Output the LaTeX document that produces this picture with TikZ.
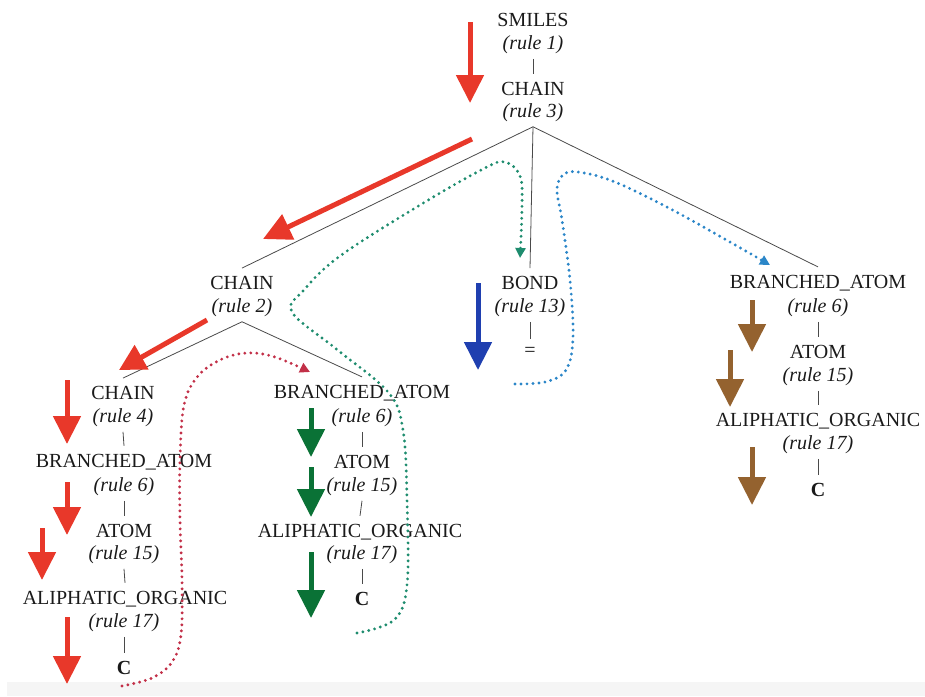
\documentclass[tikz,border=0pt]{standalone}
\usepackage{fontspec}
\setmainfont{Liberation Serif}
\usetikzlibrary{arrows.meta}

\definecolor{ink}{HTML}{1A1A1A}
\definecolor{edgegray}{HTML}{4A4A4A}
\definecolor{redA}{HTML}{E8382A}
\definecolor{greenA}{HTML}{0A7236}
\definecolor{blueA}{HTML}{1F3FB0}
\definecolor{brownA}{HTML}{94622F}
\definecolor{tealDot}{HTML}{1E8C6E}
\definecolor{blueDot}{HTML}{2B86C8}
\definecolor{redDot}{HTML}{C23048}

\tikzset{
  lbl/.style={inner xsep=1pt, inner ysep=8pt, text=ink, font=\fontsize{20}{24}\selectfont},
  rl/.style={inner sep=4.5pt, text=ink, font=\fontsize{20}{24}\selectfont\itshape},
  leaf/.style={lbl, font=\fontsize{20}{24}\selectfont\bfseries},
  tedge/.style={draw=edgegray, line width=0.8pt},
  fat/.style={line width=5pt, -{Triangle[length=28pt,width=27pt]}},
  dots/.style={line width=3.2pt, line cap=round, dash pattern=on 0pt off 6pt,
               -{Triangle[length=10pt,width=10pt]}}
}

\begin{document}
\begin{tikzpicture}[x=1pt,y=-1pt]
\useasboundingbox (0,0) rectangle (925,696);
\fill[gray!8] (7,682) rectangle (925,696);

% root chain
\node[lbl] (smiles) at (533,20) {SMILES};
\node[rl]  (r1)     at (533,45) {(rule 1)};
\node[lbl] (chainA) at (533,89) {CHAIN};
\node[rl]  (r3)     at (533,113) {(rule 3)};

% second level
\node[lbl] (chainB) at (242,283) {CHAIN};
\node[rl]  (r2)     at (242,308) {(rule 2)};
\node[lbl] (bond)   at (530,283) {BOND};
\node[rl]  (r13)    at (530,308) {(rule 13)};
\node[lbl] (eq)     at (530,352) {=};
\node[lbl] (baR)    at (818,283) {BRANCHED\_ATOM};
\node[rl]  (r6R)    at (818,308) {(rule 6)};
\node[lbl] (atomR)  at (818,352) {ATOM};
\node[rl]  (r15R)   at (818,377) {(rule 15)};
\node[lbl] (aoR)    at (818,421) {ALIPHATIC\_ORGANIC};
\node[rl]  (r17R)   at (818,445) {(rule 17)};
\node[leaf] (cR)    at (818,490) {C};

% left column
\node[lbl] (chainC) at (123,393) {CHAIN};
\node[rl]  (r4)     at (123,418) {(rule 4)};
\node[lbl] (baL)    at (124,462) {BRANCHED\_ATOM};
\node[rl]  (r6L)    at (124,487) {(rule 6)};
\node[lbl] (atomL)  at (124,531) {ATOM};
\node[rl]  (r15L)   at (124,555) {(rule 15)};
\node[lbl] (aoL)    at (125,599) {ALIPHATIC\_ORGANIC};
\node[rl]  (r17L)   at (124,623) {(rule 17)};
\node[leaf] (cL)    at (124,668) {C};

% middle column
\node[lbl] (baM)    at (362,393) {BRANCHED\_ATOM};
\node[rl]  (r6M)    at (362,418) {(rule 6)};
\node[lbl] (atomM)  at (362,462) {ATOM};
\node[rl]  (r15M)   at (362,487) {(rule 15)};
\node[lbl] (aoM)    at (360,532) {ALIPHATIC\_ORGANIC};
\node[rl]  (r17M)   at (362,555) {(rule 17)};
\node[leaf] (cM)    at (362,599) {C};

% tree edges
\draw[tedge] (r1.south) -- (chainA.north);
\draw[tedge] (r3.south) -- (chainB.north);
\draw[tedge] (r3.south) -- (bond.north);
\draw[tedge] (r3.south) -- (baR.north);
\draw[tedge] (r13.south) -- (eq.north);
\draw[tedge] (r6R.south) -- (atomR.north);
\draw[tedge] (r15R.south) -- (aoR.north);
\draw[tedge] (r17R.south) -- (cR.north);
\draw[tedge] (r2.south) -- (chainC.north);
\draw[tedge] (r2.south) -- (baM.north);
\draw[tedge] (r4.south) -- (baL.north);
\draw[tedge] (r6L.south) -- (atomL.north);
\draw[tedge] (r15L.south) -- (aoL.north);
\draw[tedge] (r17L.south) -- (cL.north);
\draw[tedge] (r6M.south) -- (atomM.north);
\draw[tedge] (r15M.south) -- (aoM.north);
\draw[tedge] (r17M.south) -- (cM.north);

% derivation arrows
\draw[fat, redA] (470,22) -- (470,103);
\draw[fat, redA] (472,139) -- (263,239);
\draw[fat, redA, -{Triangle[length=26pt,width=27pt]}] (207,320) -- (119,370);
\draw[fat, redA] (67,380) -- (67,444);
\draw[fat, redA] (67,482) -- (67,535);
\draw[fat, redA] (42,528) -- (42,580);
\draw[fat, redA] (67,617) -- (67,684);

\draw[fat, greenA] (311,408) -- (311,457);
\draw[fat, greenA] (311,467) -- (311,517);
\draw[fat, greenA] (311,552) -- (311,618);

\draw[fat, blueA] (478,283) -- (478,370);

\draw[fat, brownA] (752,300) -- (752,352);
\draw[fat, brownA] (730,350) -- (730,407);
\draw[fat, brownA] (752,447) -- (752,505);

% traversal paths
\draw[dots, redDot] plot[smooth, tension=0.6] coordinates {
  (122,686) (152,678) (172,662) (181,635) (182,580) (180,520)
  (180,460) (184,405) (198,376) (222,359) (248,353) (275,357) (310,372)};
\draw[dots, tealDot] plot[smooth, tension=0.6] coordinates {
  (357,633) (394,620) (407,585) (407,500) (403,430) (388,392)
  (335,348) (292,312) (304,290) (340,256) (420,205) (483,169)
  (505,162) (520,176) (522,205) (520,258)};
\draw[dots, blueDot] plot[smooth, tension=0.6] coordinates {
  (515,384) (545,382) (566,370) (573,338) (570,280) (562,220)
  (557,190) (563,175) (578,172) (615,182) (680,214) (770,265)};
\end{tikzpicture}
\end{document}
